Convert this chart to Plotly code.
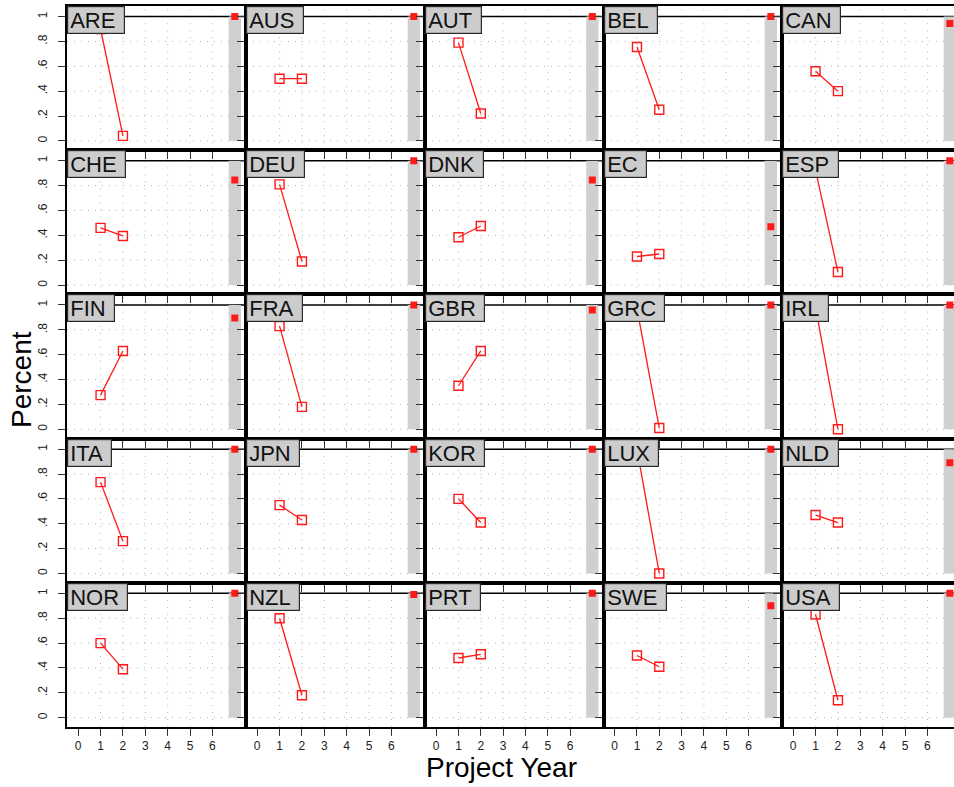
import plotly.graph_objects as go

countries = ["ARE", "AUS", "AUT", "BEL", "CAN",
             "CHE", "DEU", "DNK", "EC", "ESP",
             "FIN", "FRA", "GBR", "GRC", "IRL",
             "ITA", "JPN", "KOR", "LUX", "NLD",
             "NOR", "NZL", "PRT", "SWE", "USA"]
years = [1, 2]
year1_pct = [0.90, 0.50, 0.79, 0.755, 0.56,
             0.46, 0.81, 0.385, 0.23, 0.925,
             0.275, 0.83, 0.35, 0.97, 0.98,
             0.735, 0.55, 0.60, 1.00, 0.47,
             0.60, 0.80, 0.48, 0.50, 0.83]
year2_pct = [0.04, 0.50, 0.22, 0.25, 0.40,
             0.395, 0.19, 0.475, 0.25, 0.105,
             0.63, 0.18, 0.63, 0.01, 0.00,
             0.26, 0.43, 0.41, 0.00, 0.41,
             0.39, 0.18, 0.51, 0.41, 0.14]
overall_pct = [1.00, 1.00, 1.00, 1.00, 0.945,
               0.845, 1.00, 0.845, 0.47, 1.00,
               0.895, 1.00, 0.96, 1.00, 1.00,
               1.00, 1.00, 1.00, 1.00, 0.89,
               1.00, 0.99, 1.00, 0.90, 1.00]
summary_year = [7]
band_top = [1]
x_ticks = [0, 1, 2, 3, 4, 5, 6]
grid_years = [1, 2, 3, 4, 5, 6]
y_ticks = [0, 0.2, 0.4, 0.6, 0.8, 1]
y_ticktext = ["0", ".2", ".4", ".6", ".8", "1"]
grid_pcts = [0, 0.2, 0.4, 0.6, 0.8]
ref_pct = 1

W, H = 954, 787
RED = "#ff1a1a"
GRAY = "#d0d0d0"
GRID = "#b4b4b4"
FONT = "Liberation Sans, Arial, sans-serif"

col_px = [67, 246, 425, 603.5, 782, 961]
row_px = [6, 150.2, 294.4, 438.6, 582.8, 727]
xr = [-0.5, 7.5]
yr = [-0.075, 1.085]

fig = go.Figure()
shapes = []
annotations = []
dot = dict(color=GRID, width=1, dash="1px,6px")

for i, name in enumerate(countries):
    r, c = divmod(i, 5)
    n = "" if i == 0 else str(i + 1)
    xa, ya = "x" + n, "y" + n
    x0p, x1p = col_px[c], col_px[c + 1]
    x_range = list(xr)
    if x1p > W:
        x_range[1] = xr[0] + (xr[1] - xr[0]) * (W - x0p) / (x1p - x0p)
        x1p = W
    y0p, y1p = row_px[r], row_px[r + 1]
    dom_x = [x0p / W, x1p / W]
    dom_y = [1 - y1p / H, 1 - y0p / H]

    fig.add_trace(go.Bar(x=summary_year, y=band_top, width=0.55,
                         marker=dict(color=GRAY, line=dict(width=0)),
                         xaxis=xa, yaxis=ya, showlegend=False, hoverinfo="skip"))
    fig.add_trace(go.Scatter(x=years, y=[year1_pct[i], year2_pct[i]],
                             mode="lines+markers",
                             line=dict(color=RED, width=1.3),
                             marker=dict(symbol="square-open", size=9,
                                         color=RED, line=dict(width=1.4, color=RED)),
                             xaxis=xa, yaxis=ya, showlegend=False))
    fig.add_trace(go.Scatter(x=summary_year, y=[overall_pct[i]], mode="markers",
                             marker=dict(symbol="square", size=7, color=RED,
                                         line=dict(width=0)),
                             xaxis=xa, yaxis=ya, showlegend=False))

    axcommon = dict(showline=True, mirror=True, linecolor="black", linewidth=2,
                    ticks="outside", ticklen=7, tickwidth=1.2, tickcolor="#333333",
                    zeroline=False, fixedrange=True, automargin=False, showgrid=False,
                    tickfont=dict(size=12, color="#222222", family=FONT))
    fig.update_layout(**{
        ("xaxis" + n): dict(domain=dom_x, range=x_range, anchor=ya,
                            tickmode="array", tickvals=x_ticks,
                            showticklabels=(r == 4), **axcommon),
        ("yaxis" + n): dict(domain=dom_y, range=yr, anchor=xa,
                            tickmode="array", tickvals=y_ticks, ticktext=y_ticktext,
                            tickangle=-90, showticklabels=(c == 0),
                            ticklabelstandoff=6, **axcommon),
    })

    for g in grid_years:
        shapes.append(dict(type="line", xref=xa, yref=ya + " domain",
                           x0=g, x1=g, y0=0, y1=1, layer="below", line=dot))
    for g in grid_pcts:
        shapes.append(dict(type="line", xref=xa + " domain", yref=ya,
                           x0=0, x1=1, y0=g, y1=g, layer="below", line=dot))
    shapes.append(dict(type="line", xref=xa + " domain", yref=ya,
                       x0=0, x1=1, y0=ref_pct, y1=ref_pct, layer="below",
                       line=dict(color="black", width=1.5)))
    annotations.append(dict(text=name + "&nbsp;", xref=xa + " domain",
                            yref=ya + " domain",
                            x=0, y=1, xanchor="left", yanchor="top", showarrow=False,
                            align="left", height=22,
                            font=dict(size=22, color="#111111", family=FONT),
                            bgcolor="#cccccc", bordercolor="#2a2a2a",
                            borderwidth=1.2, borderpad=2))

annotations.append(dict(text="Percent", xref="paper", yref="paper",
                        x=21 / W, y=1 - 380 / H,
                        xanchor="center", yanchor="middle",
                        textangle=-90, showarrow=False,
                        font=dict(size=28, color="black", family=FONT)))
annotations.append(dict(text="Project Year", xref="paper", yref="paper",
                        x=501 / W, y=1 - 767 / H,
                        xanchor="center", yanchor="middle",
                        showarrow=False,
                        font=dict(size=28, color="black", family=FONT)))

fig.update_layout(width=W, height=H, margin=dict(l=0, r=0, t=0, b=0, autoexpand=False),
                  paper_bgcolor="white", plot_bgcolor="white",
                  shapes=shapes, annotations=annotations, showlegend=False,
                  font=dict(family=FONT))

fig.write_html("out.html", config={"displayModeBar": False},
               post_script="document.body.style.margin='0';"
                           "document.body.style.overflow='hidden';"
                           "document.documentElement.style.overflow='hidden';")
